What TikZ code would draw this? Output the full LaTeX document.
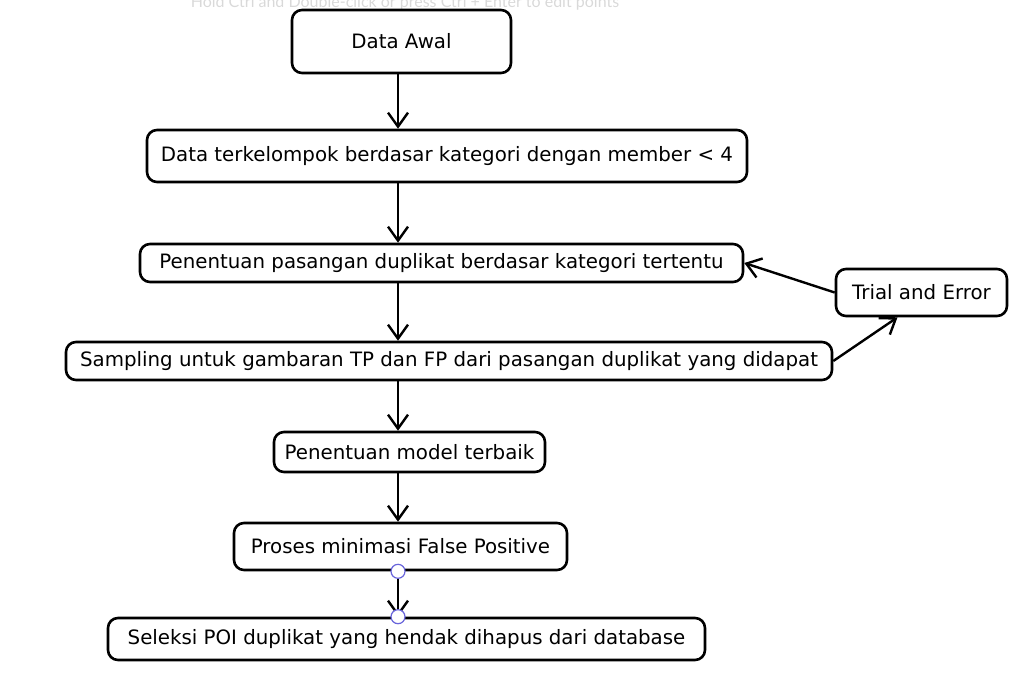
\documentclass[tikz,border=0pt]{standalone}
\usepackage{fontspec}
\setmainfont{DejaVu Sans}
\newfontfamily\hintfont{Lato}
\usetikzlibrary{arrows.meta}
\tikzstyle{arr}=[-{Straight Barb[length=14pt,width=20pt,line width=2.4pt]},line width=2.4pt]
\tikzstyle{box}=[draw,line width=2.6pt,rounded corners=10pt,inner sep=0pt,
  font=\fontsize{19.8}{24}\selectfont]
\definecolor{handle}{HTML}{6965DB}
\begin{document}
\begin{tikzpicture}[x=1pt,y=-1pt]
\useasboundingbox (0,0) rectangle (1033,678);
\tikzset{handlept/.style={circle,draw=handle,fill=white,line width=1.2pt,
  minimum size=14pt,inner sep=0pt}}
\node[gray!30,font=\hintfont\fontsize{16}{18}\selectfont] (hint) at (405,2.5)
  {Hold Ctrl and Double-click or press Ctrl + Enter to edit points};
\node[box,minimum width=219pt,minimum height=63pt] (D) at (401.5,41.5) {Data Awal};
\node[box,minimum width=600pt,minimum height=52pt] (K) at (447,156)
  {Data terkelompok berdasar kategori dengan member < 4};
\node[box,minimum width=603pt,minimum height=38pt] (P) at (441.5,263)
  {Penentuan pasangan duplikat berdasar kategori tertentu};
\node[box,minimum width=171pt,minimum height=47pt] (T) at (921.5,292.5)
  {Trial and Error};
\node[box,minimum width=766pt,minimum height=38pt] (S) at (449,361)
  {Sampling untuk gambaran TP dan FP dari pasangan duplikat yang didapat};
\node[box,minimum width=271pt,minimum height=40pt] (M) at (409.5,452)
  {Penentuan model terbaik};
\node[box,minimum width=333pt,minimum height=47pt] (F) at (400.5,546.5)
  {Proses minimasi False Positive};
\node[box,minimum width=597pt,minimum height=42pt] (H) at (406.5,639)
  {Seleksi POI duplikat yang hendak dihapus dari database};
\coordinate (mid) at (398,0);
\draw[arr] (D.south -| mid) -- (K.north -| mid);
\draw[arr] (K.south -| mid) -- (P.north -| mid);
\draw[arr] (P.south -| mid) -- (S.north -| mid);
\draw[arr] (S.south -| mid) -- (M.north -| mid);
\draw[arr] (M.south -| mid) -- (F.north -| mid);
\draw[arr] (F.south -| mid) -- (H.north -| mid);
\draw[arr] (S.east) -- ([xshift=-24pt]T.south);
\draw[arr] (T.west) -- (P.east);
\node[handlept] (h1) at (F.south -| mid) {};
\node[handlept] (h2) at (H.north -| mid) {};
\end{tikzpicture}
\end{document}
